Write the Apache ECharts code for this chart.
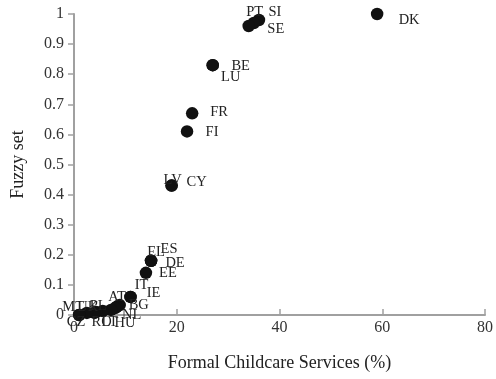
<!DOCTYPE html>
<html>
<head>
<meta charset="utf-8">
<script src="https://cdn.jsdelivr.net/npm/echarts@6/dist/echarts.min.js"></script>
<style>
  html, body { margin: 0; padding: 0; background: #fff; }
  #chart { width: 496px; height: 379px; }
</style>
</head>
<body>
<div id="chart"></div>
<script>
// Country codes with their formal childcare coverage (%) and fuzzy-set membership
const countries = ['DK', 'SI', 'SE', 'PT', 'BE', 'LU', 'FR', 'FI', 'LV', 'CY',
  'ES', 'EL', 'DE', 'EE', 'IT', 'IE', 'BG', 'NL', 'AT', 'HU', 'LT', 'PL', 'RO', 'UK', 'CZ', 'MT'];
const childcare = [59, 36, 35, 34, 27, 27, 23, 22, 19, 19,
  15, 15, 15, 14, 11, 11, 8.9, 8.3, 8, 7.2, 5.6, 4.3, 4, 2.5, 1, 1];
const fuzzy = [1.0, 0.98, 0.97, 0.96, 0.83, 0.83, 0.67, 0.61, 0.43, 0.43,
  0.18, 0.18, 0.18, 0.14, 0.06, 0.06, 0.033, 0.027, 0.023, 0.017, 0.013, 0.01, 0.007, 0.007, 0, 0];

const xTicks = [0, 20, 40, 60, 80];
const yTicks = [0, 0.1, 0.2, 0.3, 0.4, 0.5, 0.6, 0.7, 0.8, 0.9, 1];

// Where each country's code sits relative to its dot (pixels)
const labelOffsets = {
  DK: [32, 6], SI: [16, -8], SE: [22, 6], PT: [6, -14],
  BE: [28, 1], LU: [18, 12], FR: [27, -1], FI: [25, 1],
  LV: [1, -5], CY: [25, -3], ES: [18, -12], EL: [5, -9], DE: [24, 2],
  EE: [22, 0], IT: [11, -12], IE: [23, -4],
  BG: [19, 0], NL: [15, 8], AT: [2, -11], HU: [14, 13], LT: [7, 11],
  PL: [2, -6], RO: [7, 9], UK: [1, -6], CZ: [-3, 7], MT: [-6, -8]
};

const serif = '"Liberation Serif", "DejaVu Serif", serif';
const axisGrey = '#a0a0a0';

const points = countries.map((c, i) => ({
  name: c,
  value: [childcare[i], fuzzy[i]],
  label: { offset: labelOffsets[c] }
}));

const chart = echarts.init(document.getElementById('chart'), null, { renderer: 'canvas' });
chart.setOption({
  animation: false,
  backgroundColor: '#ffffff',
  grid: { left: 74, right: 7, top: 14, bottom: 64, containLabel: false },
  xAxis: {
    type: 'value',
    min: xTicks[0],
    max: xTicks[xTicks.length - 1],
    interval: xTicks[1] - xTicks[0],
    name: 'Formal Childcare Services (%)',
    nameLocation: 'middle',
    nameGap: 39,
    nameTextStyle: { fontFamily: serif, fontSize: 18, color: '#222' },
    axisLine: { lineStyle: { color: axisGrey, width: 2 } },
    axisTick: { show: true, inside: true, length: 6, lineStyle: { color: axisGrey, width: 1.5 } },
    axisLabel: { fontFamily: serif, fontSize: 16, color: '#333', margin: 5 },
    splitLine: { show: false }
  },
  yAxis: {
    type: 'value',
    min: yTicks[0],
    max: yTicks[yTicks.length - 1],
    interval: 0.1,
    name: 'Fuzzy set',
    nameLocation: 'middle',
    nameGap: 47,
    nameRotate: 90,
    nameTextStyle: { fontFamily: serif, fontSize: 18, color: '#222' },
    axisLine: { show: true, lineStyle: { color: axisGrey, width: 2 } },
    axisTick: { show: true, inside: false, length: 6, lineStyle: { color: axisGrey, width: 1.5 } },
    axisLabel: {
      fontFamily: serif, fontSize: 16, color: '#333', margin: 10,
      formatter: v => String(Math.round(v * 10) / 10)
    },
    splitLine: { show: false }
  },
  series: [{
    type: 'scatter',
    symbol: 'circle',
    symbolSize: 12.5,
    itemStyle: { color: '#111', opacity: 1 },
    label: {
      show: true,
      position: 'inside',
      formatter: '{b}',
      fontFamily: serif,
      fontSize: 14.5,
      color: '#222'
    },
    emphasis: { disabled: true },
    data: points
  }]
});
</script>
</body>
</html>
